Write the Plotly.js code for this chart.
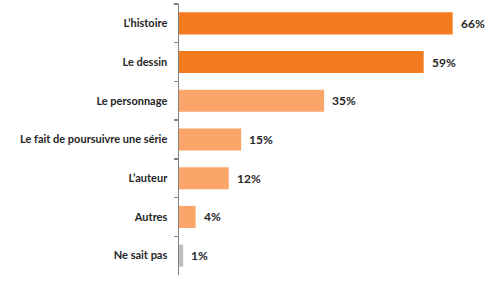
<!DOCTYPE html>
<html>
<head>
<meta charset="utf-8">
<script src="https://cdn.plot.ly/plotly-3.0.1.min.js"></script>
<style>html,body{margin:0;padding:0;background:#fff;}#chart{width:500px;height:285px;}</style>
</head>
<body>
<div id="chart"></div>
<script>
const categories = ["L’histoire", "Le dessin", "Le personnage", "Le fait de poursuivre une série", "L’auteur", "Autres", "Ne sait pas"];
const values = [66, 59, 35, 15, 12, 4, 1];
const valueLabels = ["66%", "59%", "35%", "15%", "12%", "4%", "1%"];
const barColors = ["#F47B20", "#F47B20", "#FBA56B", "#FBA56B", "#FBA56B", "#FBA56B", "#BFBFBF"];

const trace = {
  type: 'bar',
  orientation: 'h',
  y: categories,
  x: values,
  marker: {color: barColors, line: {width: 0}},
  hoverinfo: 'none'
};

const annotations = values.map((v, i) => ({
  x: v, y: categories[i], xref: 'x', yref: 'y',
  text: valueLabels[i], showarrow: false,
  xanchor: 'left', yanchor: 'middle', xshift: 6,
  font: {family: 'Lato, "Open Sans", sans-serif', size: 12, color: '#262626', weight: 'bold'}
}));

const layout = {
  width: 500, height: 285,
  margin: {l: 179, r: 10, t: 4, b: 10},
  paper_bgcolor: '#fff', plot_bgcolor: '#fff',
  showlegend: false,
  bargap: 0.43,
  xaxis: {range: [0, 75], showgrid: false, zeroline: false, showticklabels: false, showline: false, ticks: ''},
  yaxis: {
    type: 'category', autorange: 'reversed',
    showline: true, linecolor: '#808080', linewidth: 1.5,
    ticks: 'outside', tickson: 'boundaries', ticklen: 4, tickcolor: '#808080', tickwidth: 1.5,
    showgrid: false, zeroline: false,
    ticklabelstandoff: 8,
    tickfont: {family: 'Lato, "Open Sans", sans-serif', size: 11, color: '#262626', weight: 'bold'}
  },
  annotations: annotations
};

Plotly.newPlot('chart', [trace], layout, {displayModeBar: false, staticPlot: true});
</script>
</body>
</html>
